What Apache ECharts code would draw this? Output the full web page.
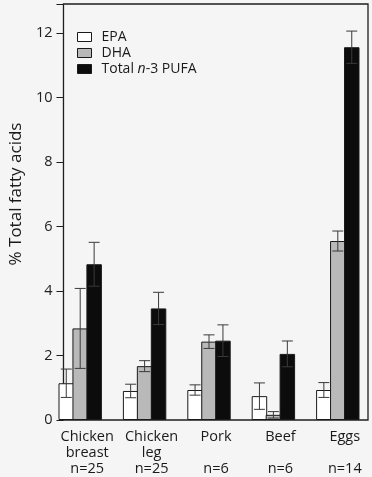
<!DOCTYPE html>
<html>
<head>
<meta charset="utf-8">
<script src="https://cdn.jsdelivr.net/npm/echarts@6/dist/echarts.min.js"></script>
<style>
html,body{margin:0;padding:0;background:#f5f5f5;}
#c{width:372px;height:477px;}
</style>
</head>
<body>
<div id="c"></div>
<script>
var categories = ['Chicken\nbreast\nn=25', 'Chicken\nleg\nn=25', 'Pork\n\nn=6', 'Beef\n\nn=6', 'Eggs\n\nn=14'];
var seriesNames = ['EPA', 'DHA', 'Total n-3 PUFA'];
var epa = [1.14, 0.90, 0.93, 0.74, 0.93];
var epaErr = [0.44, 0.21, 0.16, 0.41, 0.23];
var dha = [2.84, 1.67, 2.43, 0.16, 5.55];
var dhaErr = [1.24, 0.17, 0.21, 0.10, 0.31];
var total = [4.83, 3.46, 2.46, 2.05, 11.56];
var totalErr = [0.68, 0.50, 0.49, 0.40, 0.50];
var yTicks = [0, 2, 4, 6, 8, 10, 12];

var FONT = 'Open Sans';
var BW = 15.5;
var GAP = -0.1;
var values = [epa, dha, total];
var errs = [epaErr, dhaErr, totalErr];
var fills = ['#ffffff', '#b9b9b9', '#0c0c0c'];

function errSeries(k) {
  var data = values[k].map(function (v, i) { return [i, v, errs[k][i]]; });
  return {
    type: 'custom', xAxisIndex: 0, yAxisIndex: 0, z: 5, silent: true,
    data: data,
    renderItem: function (params, api) {
      var i = api.value(0), v = api.value(1), e = api.value(2);
      var hi = api.coord([i, v + e]);
      var lo = api.coord([i, v - e]);
      var x = hi[0] + (k - 1) * BW * (1 + GAP);
      var cap = 5.5;
      var st = { stroke: '#3a3a3a', lineWidth: 1 };
      return { type: 'group', children: [
        { type: 'line', shape: { x1: x, y1: hi[1], x2: x, y2: lo[1] }, style: st },
        { type: 'line', shape: { x1: x - cap, y1: hi[1], x2: x + cap, y2: hi[1] }, style: st },
        { type: 'line', shape: { x1: x - cap, y1: lo[1], x2: x + cap, y2: lo[1] }, style: st }
      ]};
    }
  };
}

var chart = echarts.init(document.getElementById('c'));
var series = [];
for (var k = 0; k < 3; k++) {
  series.push({
    name: seriesNames[k], type: 'bar', xAxisIndex: 0, yAxisIndex: 0,
    data: values[k], barWidth: BW, barGap: (GAP * 100) + '%',
    itemStyle: { color: fills[k], borderColor: '#1a1a1a', borderWidth: 1 }
  });
}
for (var k2 = 0; k2 < 3; k2++) series.push(errSeries(k2));

var rowH = 16;
chart.setOption({
  backgroundColor: '#f5f5f5',
  animation: false,
  textStyle: { fontFamily: FONT },
  grid: [
    { left: 48, right: 2, top: 4, bottom: 57 },
    { left: 53, right: 4, top: 4, bottom: 57, show: true, borderColor: '#1e1e1e', borderWidth: 1.3, backgroundColor: 'transparent' }
  ],
  legend: {
    orient: 'vertical', left: 77, top: 29, itemWidth: 14, itemHeight: 9, itemGap: 0, icon: 'rect', padding: 0,
    data: seriesNames,
    itemStyle: { borderColor: '#1a1a1a', borderWidth: 1 },
    textStyle: { fontFamily: FONT, fontSize: 14, color: '#1a1a1a', lineHeight: rowH, padding: [0, 0, 0, 5],
      rich: { a: { fontFamily: FONT, fontSize: 14, color: '#1a1a1a', lineHeight: rowH }, i: { fontFamily: FONT, fontSize: 14, fontStyle: 'italic', color: '#1a1a1a', lineHeight: rowH } } },
    formatter: function (n) {
      if (n === 'Total n-3 PUFA') return '{a|Total }{i|n}{a|-3 PUFA}';
      return n;
    }
  },
  xAxis: [
    { type: 'category', gridIndex: 0, data: categories,
      axisLine: { show: false }, axisTick: { show: false },
      axisLabel: { interval: 0, fontFamily: FONT, fontSize: 14.5, color: '#1a1a1a', lineHeight: 16, margin: 9, padding: [0, 0, 0, 14] } },
    { type: 'category', gridIndex: 1, data: categories, show: false }
  ],
  yAxis: [
    { type: 'value', gridIndex: 0, min: 0, max: 12.9, show: false },
    { type: 'value', gridIndex: 1, min: 0, max: 12.9, interval: 2,
      axisLine: { show: false }, splitLine: { show: false },
      axisTick: { show: true, length: 7, lineStyle: { color: '#1e1e1e' } },
      axisLabel: { fontFamily: FONT, fontSize: 14.5, color: '#222', margin: 11,
        formatter: function (v) { return yTicks.indexOf(v) >= 0 ? String(v) : ''; } },
      name: '% Total fatty acids', nameLocation: 'middle', nameGap: 33, nameRotate: 90,
      nameTextStyle: { fontFamily: FONT, fontSize: 17, color: '#1a1a1a', padding: [0, 0, 0, 36] } }
  ],
  series: series
});
</script>
</body>
</html>
